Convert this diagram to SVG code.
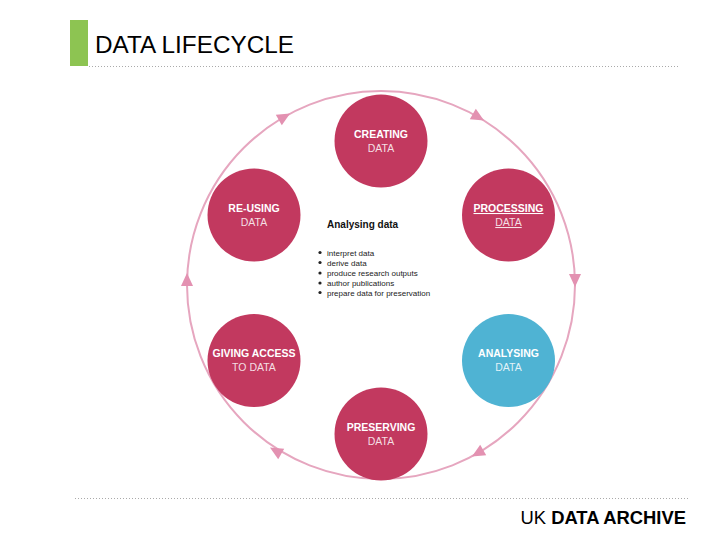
<svg xmlns="http://www.w3.org/2000/svg" width="720" height="540" viewBox="0 0 720 540">
<style>
.node{fill:#c2395f}
.blue{fill:#4fb3d3}
.l1{font-family:"Liberation Sans",Arial,sans-serif;font-size:10.5px;font-weight:bold;fill:#fff;text-anchor:middle}
.l2{font-family:"Liberation Sans",Arial,sans-serif;font-size:10.5px;fill:#fff;fill-opacity:0.85;text-anchor:middle}
.arc{fill:none;stroke:#e6a6bf;stroke-width:2}
.head{fill:#e391b1}
.dots{stroke:#aaa;stroke-width:1;stroke-dasharray:1 2}
.bl{font-family:"Liberation Sans",Arial,sans-serif;font-size:8px;fill:#222}
</style>
<defs>
<polygon id="ah" points="7,0 -6,-6 -6,6"/>
</defs>
<rect width="720" height="540" fill="#fff"/>
<g id="header">
<rect x="70" y="20" width="18" height="46" fill="#8dc452"/>
<text x="95" y="53" font-family="'Liberation Sans',Arial,sans-serif" font-size="24.3" fill="#000">DATA LIFECYCLE</text>
<line class="dots" x1="89" y1="66.5" x2="678" y2="66.5"/>
</g>
<g id="connectors">
<circle class="arc" cx="381" cy="285" r="194"/>
<use href="#ah" class="head" transform="translate(284,117) rotate(-30)"/>
<use href="#ah" class="head" transform="translate(478,117) rotate(30)"/>
<use href="#ah" class="head" transform="translate(575,280) rotate(90)"/>
<use href="#ah" class="head" transform="translate(478,453) rotate(150)"/>
<use href="#ah" class="head" transform="translate(276,451) rotate(-150)"/>
<use href="#ah" class="head" transform="translate(187,280) rotate(-90)"/>
</g>
<g id="creating">
<circle class="node" cx="381" cy="141" r="46.5"/>
<text class="l1" x="381" y="138">CREATING</text>
<text class="l2" x="381" y="152">DATA</text>
</g>
<g id="processing">
<circle class="node" cx="508.5" cy="215" r="46.5"/>
<text class="l1" x="508.5" y="212" text-decoration="underline">PROCESSING</text>
<text class="l2" x="508.5" y="226" text-decoration="underline">DATA</text>
</g>
<g id="analysing">
<circle class="blue" cx="508.5" cy="360.5" r="46.5"/>
<text class="l1" x="508.5" y="357">ANALYSING</text>
<text class="l2" x="508.5" y="371">DATA</text>
</g>
<g id="preserving">
<circle class="node" cx="381" cy="434" r="46.5"/>
<text class="l1" x="381" y="431">PRESERVING</text>
<text class="l2" x="381" y="445">DATA</text>
</g>
<g id="giving-access">
<circle class="node" cx="254" cy="360.5" r="46.5"/>
<text class="l1" x="254" y="357">GIVING ACCESS</text>
<text class="l2" x="254" y="371">TO DATA</text>
</g>
<g id="re-using">
<circle class="node" cx="254" cy="215" r="46.5"/>
<text class="l1" x="254" y="212">RE-USING</text>
<text class="l2" x="254" y="226">DATA</text>
</g>
<g id="analysing-info">
<text x="327" y="228" font-family="'Liberation Sans',Arial,sans-serif" font-size="10" font-weight="bold" fill="#111">Analysing data</text>
<g fill="#222">
<circle cx="320" cy="252.5" r="1.6"/>
<circle cx="320" cy="262.5" r="1.6"/>
<circle cx="320" cy="273" r="1.6"/>
<circle cx="320" cy="283" r="1.6"/>
<circle cx="320" cy="292.5" r="1.6"/>
</g>
<text class="bl" x="327" y="255.5">interpret data</text>
<text class="bl" x="327" y="265.5">derive data</text>
<text class="bl" x="327" y="276">produce research outputs</text>
<text class="bl" x="327" y="286">author publications</text>
<text class="bl" x="327" y="295.5">prepare data for preservation</text>
</g>
<g id="footer">
<line class="dots" x1="75" y1="498.5" x2="688" y2="498.5"/>
<text x="686" y="524" text-anchor="end" font-family="'Liberation Sans',Arial,sans-serif" font-size="18.4" fill="#000">UK <tspan font-weight="bold">DATA ARCHIVE</tspan></text>
</g>
</svg>
